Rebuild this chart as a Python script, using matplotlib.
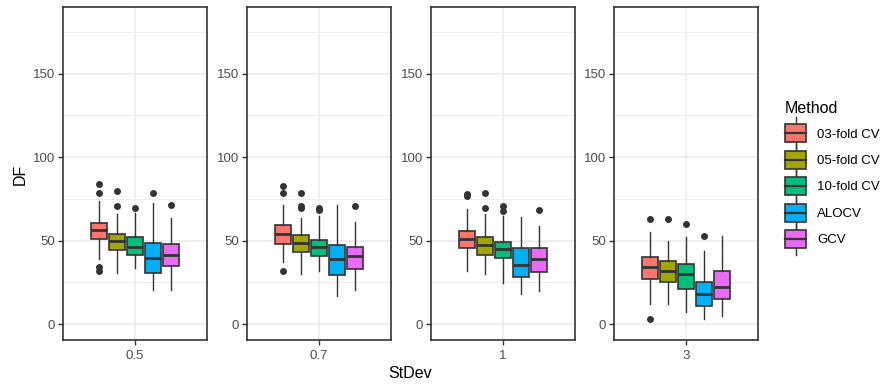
import numpy as np
import matplotlib
matplotlib.use("Agg")
import matplotlib.pyplot as plt
from matplotlib.patches import Rectangle, Patch
from matplotlib.lines import Line2D
from matplotlib.legend_handler import HandlerBase

plt.rcParams['font.family'] = ['Liberation Sans', 'DejaVu Sans']

# data (DF per method, one row per StDev panel)
stdevs = ['0.5', '0.7', '1', '3']
methods = ['03-fold CV', '05-fold CV', '10-fold CV', 'ALOCV', 'GCV']
colors = ['#F8766D', '#A3A500', '#00BF7D', '#00B0F6', '#E76BF3']

whislo = [[39, 30.6, 33.6, 20.4, 20.4],
          [37, 30, 32, 17, 20.6],
          [32, 30, 24.6, 18, 19.6],
          [12, 12, 7, 3, 5]]
q1 = [[51, 44.6, 41.2, 30.4, 35],
      [48, 43.4, 40.6, 29.6, 33],
      [45.4, 41.4, 39.4, 28.4, 31],
      [27, 25, 21, 11, 15]]
med = [[56.4, 49.8, 46.4, 39.6, 41.4],
       [54, 48.6, 46.4, 39, 40.8],
       [50.8, 47.4, 45, 35.6, 39],
       [34, 32, 30, 18, 22]]
q3 = [[60.6, 54.2, 52.2, 48.4, 48],
      [59.2, 53.4, 50.4, 47.2, 46],
      [56, 52, 49.4, 45.4, 45.4],
      [40, 38, 36, 25, 32]]
whishi = [[74, 66, 66.5, 72.6, 63.6],
          [71.4, 63.4, 64.6, 71.6, 61.4],
          [69, 66, 65, 64, 59],
          [55, 50, 52, 44, 53]]
fliers = [[[84, 78.4, 34, 32], [79.8, 70.8], [69.4], [78.4], [71.6]],
          [[82.6, 78.4, 31.6], [78.4, 70.6, 69.4], [69.4, 68.6], [], [70.8]],
          [[78, 77], [78.4, 69.4], [71, 67.5], [], [68.4]],
          [[63, 3], [63], [60], [53], []]]

W, H = 888, 390
fig = plt.figure(figsize=(W / 100, H / 100), dpi=100)

edge = '#333333'
grid_c = '#EBEBEB'
offsets = np.array([-0.3, -0.15, 0, 0.15, 0.3])
panel_left = [63, 247, 431, 614]
panel_w = 144
top, bottom = 7, 340

for p, sd in enumerate(stdevs):
    ax = fig.add_axes([panel_left[p] / W, (H - bottom) / H,
                       panel_w / W, (bottom - top) / H])
    stats = []
    for m in range(len(methods)):
        stats.append(dict(med=med[p][m], q1=q1[p][m], q3=q3[p][m],
                          whislo=whislo[p][m], whishi=whishi[p][m],
                          fliers=fliers[p][m]))
    bp = ax.bxp(stats, positions=1 + offsets, widths=0.135, patch_artist=True,
                showcaps=False, manage_ticks=False,
                boxprops=dict(edgecolor=edge, linewidth=1.2),
                medianprops=dict(color=edge, linewidth=2.0),
                whiskerprops=dict(color=edge, linewidth=1.0),
                flierprops=dict(marker='o', markerfacecolor=edge,
                                markeredgecolor='none', markersize=5))
    for box, c in zip(bp['boxes'], colors):
        box.set_facecolor(c)
        box.set_zorder(3)
    for k in ('medians', 'whiskers', 'fliers'):
        for a in bp[k]:
            a.set_zorder(3)

    ax.set_xlim(0.4, 1.6)
    ax.set_ylim(-9.5, 190)
    ax.set_xticks([1])
    ax.set_xticklabels([sd])
    ax.set_yticks([0, 50, 100, 150])
    ax.set_yticks([25, 75, 125, 175], minor=True)
    ax.set_xticks([], minor=True)
    ax.grid(True, which='major', color=grid_c, linewidth=1.1, zorder=0)
    ax.grid(True, which='minor', axis='y', color=grid_c, linewidth=0.6, zorder=0)
    ax.set_axisbelow(True)
    ax.tick_params(which='major', length=3.5, width=1.0, color=edge,
                   labelcolor='#4D4D4D', labelsize=9.5, pad=2)
    ax.tick_params(axis='x', which='major', pad=4)
    ax.tick_params(which='minor', length=0)
    for s in ax.spines.values():
        s.set_color(edge)
        s.set_linewidth(1.2)

fig.text(410 / W, 1 - 373 / H, 'StDev', ha='center', va='center', fontsize=11.5)
fig.text(20 / W, 1 - 174 / H, 'DF', ha='center', va='center', rotation=90,
         fontsize=11.5)


class BoxKey(HandlerBase):
    def create_artists(self, legend, orig_handle, xdescent, ydescent,
                       width, height, fontsize, trans):
        px = fontsize * legend.figure.dpi / 72
        x0, y0 = -xdescent, -ydescent
        xm = x0 + width / 2
        yc = y0 + height / 2
        wl = Line2D([xm, xm], [yc - 0.87 * px, yc + 0.87 * px], color=edge,
                    lw=1.0, transform=trans)
        r = Rectangle((x0, yc - 0.49 * px), width, 0.98 * px,
                      facecolor=orig_handle.get_facecolor(), edgecolor=edge,
                      lw=1.2, transform=trans)
        ml = Line2D([x0, x0 + width], [yc, yc], color=edge,
                    lw=1.6, transform=trans)
        return [wl, r, ml]


handles = [Patch(facecolor=c) for c in colors]
leg = fig.legend(handles, methods, handler_map={Patch: BoxKey()},
                 loc='upper left', bbox_to_anchor=(785 / W, 1 - 101 / H),
                 frameon=False, fontsize=9.5, title='Method',
                 title_fontsize=11.5, alignment='left', borderpad=0,
                 borderaxespad=0, handlelength=1.6, handleheight=1.75,
                 labelspacing=0.62, handletextpad=0.85)

fig.savefig('out.png', dpi=100)
